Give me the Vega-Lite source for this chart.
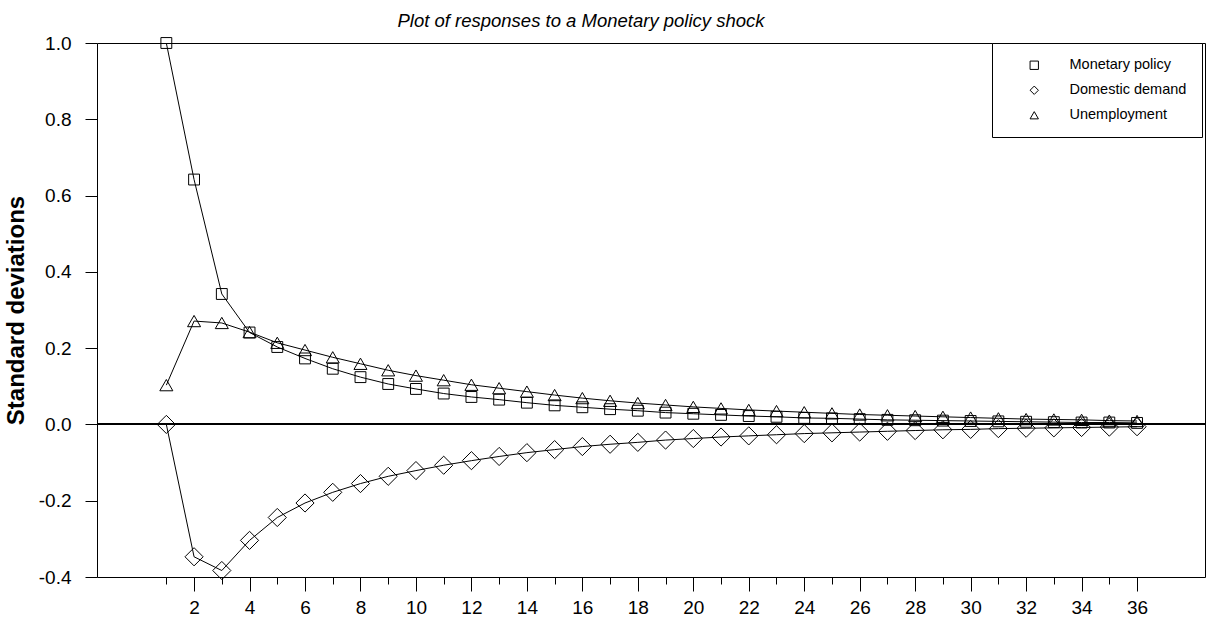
{
  "$schema": "https://vega.github.io/schema/vega-lite/v6.json",
  "width": 1108,
  "height": 534,
  "autosize": "none",
  "padding": {"left": 97, "top": 43, "right": 1, "bottom": 41},
  "background": "white",
  "config": {
    "font": "Liberation Sans",
    "view": {"stroke": "black", "strokeWidth": 1},
    "axis": {"domain": false, "grid": false, "tickColor": "black", "labelColor": "black", "labelFont": "Liberation Sans", "titleColor": "black"}
  },
  "title": {
    "text": "Plot of responses to a Monetary policy shock",
    "font": "Liberation Sans",
    "fontSize": 18.5,
    "fontStyle": "italic",
    "fontWeight": "normal",
    "color": "black",
    "anchor": "middle",
    "dx": -70,
    "baseline": "alphabetic",
    "offset": -11
  },
  "data": {
    "values": [
      {"t": 1, "series": "Monetary policy", "v": 1.000},
      {"t": 2, "series": "Monetary policy", "v": 0.642},
      {"t": 3, "series": "Monetary policy", "v": 0.342},
      {"t": 4, "series": "Monetary policy", "v": 0.241},
      {"t": 5, "series": "Monetary policy", "v": 0.203},
      {"t": 6, "series": "Monetary policy", "v": 0.173},
      {"t": 7, "series": "Monetary policy", "v": 0.146},
      {"t": 8, "series": "Monetary policy", "v": 0.124},
      {"t": 9, "series": "Monetary policy", "v": 0.106},
      {"t": 10, "series": "Monetary policy", "v": 0.093},
      {"t": 11, "series": "Monetary policy", "v": 0.081},
      {"t": 12, "series": "Monetary policy", "v": 0.072},
      {"t": 13, "series": "Monetary policy", "v": 0.065},
      {"t": 14, "series": "Monetary policy", "v": 0.057},
      {"t": 15, "series": "Monetary policy", "v": 0.050},
      {"t": 16, "series": "Monetary policy", "v": 0.045},
      {"t": 17, "series": "Monetary policy", "v": 0.040},
      {"t": 18, "series": "Monetary policy", "v": 0.036},
      {"t": 19, "series": "Monetary policy", "v": 0.031},
      {"t": 20, "series": "Monetary policy", "v": 0.028},
      {"t": 21, "series": "Monetary policy", "v": 0.025},
      {"t": 22, "series": "Monetary policy", "v": 0.022},
      {"t": 23, "series": "Monetary policy", "v": 0.020},
      {"t": 24, "series": "Monetary policy", "v": 0.017},
      {"t": 25, "series": "Monetary policy", "v": 0.016},
      {"t": 26, "series": "Monetary policy", "v": 0.014},
      {"t": 27, "series": "Monetary policy", "v": 0.012},
      {"t": 28, "series": "Monetary policy", "v": 0.011},
      {"t": 29, "series": "Monetary policy", "v": 0.010},
      {"t": 30, "series": "Monetary policy", "v": 0.009},
      {"t": 31, "series": "Monetary policy", "v": 0.008},
      {"t": 32, "series": "Monetary policy", "v": 0.007},
      {"t": 33, "series": "Monetary policy", "v": 0.006},
      {"t": 34, "series": "Monetary policy", "v": 0.005},
      {"t": 35, "series": "Monetary policy", "v": 0.005},
      {"t": 36, "series": "Monetary policy", "v": 0.004},
      {"t": 1, "series": "Domestic demand", "v": 0.000},
      {"t": 2, "series": "Domestic demand", "v": -0.347},
      {"t": 3, "series": "Domestic demand", "v": -0.383},
      {"t": 4, "series": "Domestic demand", "v": -0.304},
      {"t": 5, "series": "Domestic demand", "v": -0.244},
      {"t": 6, "series": "Domestic demand", "v": -0.206},
      {"t": 7, "series": "Domestic demand", "v": -0.178},
      {"t": 8, "series": "Domestic demand", "v": -0.155},
      {"t": 9, "series": "Domestic demand", "v": -0.136},
      {"t": 10, "series": "Domestic demand", "v": -0.121},
      {"t": 11, "series": "Domestic demand", "v": -0.107},
      {"t": 12, "series": "Domestic demand", "v": -0.095},
      {"t": 13, "series": "Domestic demand", "v": -0.084},
      {"t": 14, "series": "Domestic demand", "v": -0.074},
      {"t": 15, "series": "Domestic demand", "v": -0.066},
      {"t": 16, "series": "Domestic demand", "v": -0.058},
      {"t": 17, "series": "Domestic demand", "v": -0.052},
      {"t": 18, "series": "Domestic demand", "v": -0.047},
      {"t": 19, "series": "Domestic demand", "v": -0.041},
      {"t": 20, "series": "Domestic demand", "v": -0.037},
      {"t": 21, "series": "Domestic demand", "v": -0.033},
      {"t": 22, "series": "Domestic demand", "v": -0.030},
      {"t": 23, "series": "Domestic demand", "v": -0.027},
      {"t": 24, "series": "Domestic demand", "v": -0.024},
      {"t": 25, "series": "Domestic demand", "v": -0.022},
      {"t": 26, "series": "Domestic demand", "v": -0.020},
      {"t": 27, "series": "Domestic demand", "v": -0.018},
      {"t": 28, "series": "Domestic demand", "v": -0.016},
      {"t": 29, "series": "Domestic demand", "v": -0.014},
      {"t": 30, "series": "Domestic demand", "v": -0.013},
      {"t": 31, "series": "Domestic demand", "v": -0.011},
      {"t": 32, "series": "Domestic demand", "v": -0.010},
      {"t": 33, "series": "Domestic demand", "v": -0.009},
      {"t": 34, "series": "Domestic demand", "v": -0.008},
      {"t": 35, "series": "Domestic demand", "v": -0.007},
      {"t": 36, "series": "Domestic demand", "v": -0.006},
      {"t": 1, "series": "Unemployment", "v": 0.103},
      {"t": 2, "series": "Unemployment", "v": 0.271},
      {"t": 3, "series": "Unemployment", "v": 0.266},
      {"t": 4, "series": "Unemployment", "v": 0.242},
      {"t": 5, "series": "Unemployment", "v": 0.214},
      {"t": 6, "series": "Unemployment", "v": 0.195},
      {"t": 7, "series": "Unemployment", "v": 0.176},
      {"t": 8, "series": "Unemployment", "v": 0.159},
      {"t": 9, "series": "Unemployment", "v": 0.142},
      {"t": 10, "series": "Unemployment", "v": 0.128},
      {"t": 11, "series": "Unemployment", "v": 0.116},
      {"t": 12, "series": "Unemployment", "v": 0.104},
      {"t": 13, "series": "Unemployment", "v": 0.095},
      {"t": 14, "series": "Unemployment", "v": 0.086},
      {"t": 15, "series": "Unemployment", "v": 0.077},
      {"t": 16, "series": "Unemployment", "v": 0.069},
      {"t": 17, "series": "Unemployment", "v": 0.062},
      {"t": 18, "series": "Unemployment", "v": 0.056},
      {"t": 19, "series": "Unemployment", "v": 0.051},
      {"t": 20, "series": "Unemployment", "v": 0.046},
      {"t": 21, "series": "Unemployment", "v": 0.042},
      {"t": 22, "series": "Unemployment", "v": 0.038},
      {"t": 23, "series": "Unemployment", "v": 0.035},
      {"t": 24, "series": "Unemployment", "v": 0.032},
      {"t": 25, "series": "Unemployment", "v": 0.029},
      {"t": 26, "series": "Unemployment", "v": 0.026},
      {"t": 27, "series": "Unemployment", "v": 0.024},
      {"t": 28, "series": "Unemployment", "v": 0.022},
      {"t": 29, "series": "Unemployment", "v": 0.020},
      {"t": 30, "series": "Unemployment", "v": 0.018},
      {"t": 31, "series": "Unemployment", "v": 0.016},
      {"t": 32, "series": "Unemployment", "v": 0.014},
      {"t": 33, "series": "Unemployment", "v": 0.013},
      {"t": 34, "series": "Unemployment", "v": 0.012},
      {"t": 35, "series": "Unemployment", "v": 0.010},
      {"t": 36, "series": "Unemployment", "v": 0.009}
    ]
  },
  "encoding": {
    "x": {
      "field": "t",
      "type": "quantitative",
      "scale": {"domain": [-1.5, 38.45], "nice": false, "zero": false},
      "axis": {
        "title": null,
        "values": [1,2,3,4,5,6,7,8,9,10,11,12,13,14,15,16,17,18,19,20,21,22,23,24,25,26,27,28,29,30,31,32,33,34,35,36],
        "labelExpr": "datum.value % 2 === 0 ? datum.label : ''",
        "tickSize": {"condition": {"test": "datum.value % 2 === 0", "value": 14}, "value": 7},
        "labelPadding": 7,
        "labelFontSize": 19,
        "labelFlush": false,
        "labelOverlap": false
      }
    },
    "y": {
      "field": "v",
      "type": "quantitative",
      "scale": {"domain": [-0.4, 1.0], "nice": false, "zero": false},
      "axis": {
        "title": "Standard deviations",
        "titleFontSize": 24,
        "titleFontWeight": "bold",
        "titleFont": "Liberation Sans",
        "titlePadding": 10,
        "values": [-0.4, -0.2, 0, 0.2, 0.4, 0.6, 0.8, 1.0],
        "labelExpr": "replace(format(datum.value, '.1f'), '\u2212', '-')",
        "tickSize": 12,
        "labelPadding": 14,
        "labelFontSize": 19,
        "labelFlush": false,
        "labelOverlap": false
      }
    },
    "shape": {
      "field": "series",
      "type": "nominal",
      "scale": {"domain": ["Monetary policy", "Domestic demand", "Unemployment"], "range": ["square", "diamond", "triangle-up"]},
      "legend": {
        "title": null,
        "orient": "none",
        "legendX": 895,
        "legendY": 0,
        "strokeColor": "black",
        "fillColor": "white",
        "padding": 15,
        "symbolOffset": 20,
        "symbolSize": 70,
        "symbolStrokeColor": "black",
        "symbolFillColor": "transparent",
        "symbolStrokeWidth": 1,
        "labelOffset": 28,
        "labelFontSize": 14.5,
        "labelFont": "Liberation Sans",
        "labelColor": "black",
        "rowPadding": 10,
        "encode": {
          "symbols": {
            "update": {
              "size": {"signal": "datum.value === 'Domestic demand' ? 200 : datum.value === 'Unemployment' ? 85 : 55"}
            }
          }
        }
      }
    }
  },
  "layer": [
    {
      "mark": {"type": "rule", "color": "black", "strokeWidth": 1},
      "encoding": {"y": {"datum": 0}, "x": null, "shape": null}
    },
    {
      "mark": {"type": "line", "color": "black", "strokeWidth": 1},
      "encoding": {"detail": {"field": "series", "type": "nominal"}, "shape": null}
    },
    {
      "transform": [{"filter": "datum.series === 'Monetary policy'"}],
      "mark": {"type": "point", "filled": false, "stroke": "black", "strokeWidth": 1, "opacity": 1, "size": 118}
    },
    {
      "transform": [{"filter": "datum.series === 'Domestic demand'"}],
      "mark": {"type": "point", "filled": false, "stroke": "black", "strokeWidth": 1, "opacity": 1, "size": 330}
    },
    {
      "transform": [{"filter": "datum.series === 'Unemployment'"}],
      "mark": {"type": "point", "filled": false, "stroke": "black", "strokeWidth": 1, "opacity": 1, "size": 170}
    }
  ]
}
